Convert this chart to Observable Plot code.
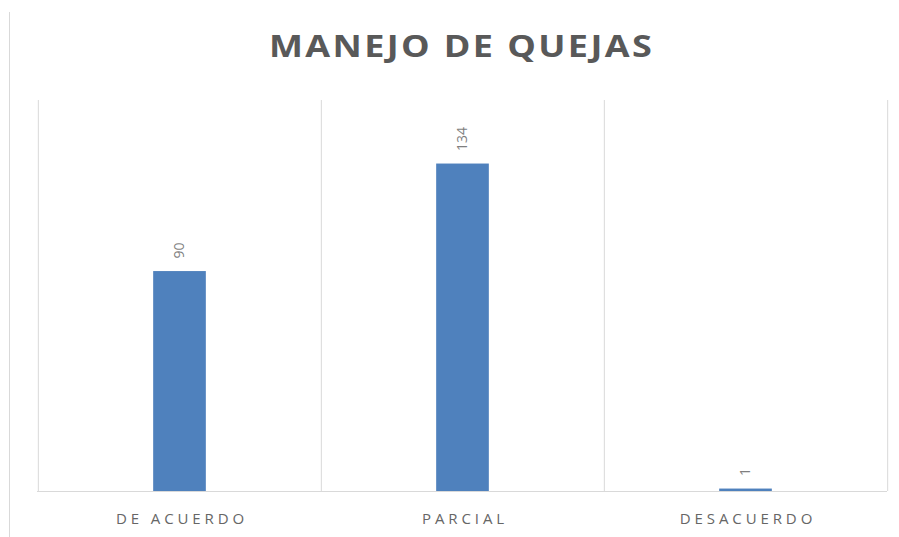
<!DOCTYPE html>
<html>
<head>
<meta charset="utf-8">
<script src="https://cdn.jsdelivr.net/npm/d3@7"></script>
<script src="https://cdn.jsdelivr.net/npm/@observablehq/plot@0.6"></script>
<style>
  html, body { margin: 0; padding: 0; background: #fff; }
  #wrap { position: relative; width: 899px; height: 537px; overflow: hidden; background: #fff; }
  #frame { position: absolute; left: 9px; top: 12px; width: 0; height: 525px; border-left: 1px solid #d9d9d9; z-index: 5; }
  #title { position: absolute; left: 0; top: 0; width: 899px; height: 100px; text-align: center;
           font-family: "Open Sans", sans-serif; font-weight: bold; font-size: 30px; letter-spacing: 2px;
           color: #595959; line-height: 30px; }
  #title span { display: inline-block; position: relative; top: 31px; left: 12px; transform: scaleX(1.2); transform-origin: center; }
  #chart { position: absolute; left: 0; top: 100px; }
</style>
</head>
<body>
<div id="wrap">
  <div id="title"><span>MANEJO DE QUEJAS</span></div>
  <div id="chart"></div>
  <div id="frame"></div>
</div>
<script>
const categories = ["DE ACUERDO", "PARCIAL", "DESACUERDO"];
const values = [90, 134, 1];

const data = categories.map((c, i) => ({category: c, value: values[i]}));

const W = 899, H = 437;
const mL = 37, mR = 12;
const band = (W - mL - mR) / categories.length;
const barW = 53;

const chart = Plot.plot({
  width: W,
  height: H,
  marginLeft: mL,
  marginRight: mR,
  marginTop: 0,
  marginBottom: 46,
  style: {fontFamily: "Open Sans, sans-serif", background: "#fff"},
  x: {domain: categories, padding: 0, label: null},
  y: {domain: [0, 160], axis: null},
  marks: [
    Plot.ruleX(categories, {x: d => d, y1: 0, y2: 160, dx: -band / 2, stroke: "#d9d9d9", strokeWidth: 1}),
    Plot.ruleX([categories[categories.length - 1]], {x: d => d, y1: 0, y2: 160, dx: band / 2, stroke: "#d9d9d9", strokeWidth: 1}),
    Plot.barY(data, {x: "category", y: "value", fill: "#4f81bd", insetLeft: (band - barW) / 2, insetRight: (band - barW) / 2}),
    Plot.ruleY([0], {stroke: "#d9d9d9", strokeWidth: 1}),
    Plot.text(data, {x: "category", y: "value", text: d => String(d.value), rotate: -90,
      textAnchor: "start", lineAnchor: "middle", dy: -13, fill: "#7f7f7f", fontSize: 14}),
    Plot.axisX({tickSize: 0, tickPadding: 22, fontSize: 15, fill: "#666666", label: null})
  ]
});

chart.querySelectorAll('[aria-label="x-axis tick label"] text').forEach(t => {
  t.style.letterSpacing = "3.9px";
  t.setAttribute("dx", "2");
});

document.getElementById("chart").appendChild(chart);
</script>
</body>
</html>
